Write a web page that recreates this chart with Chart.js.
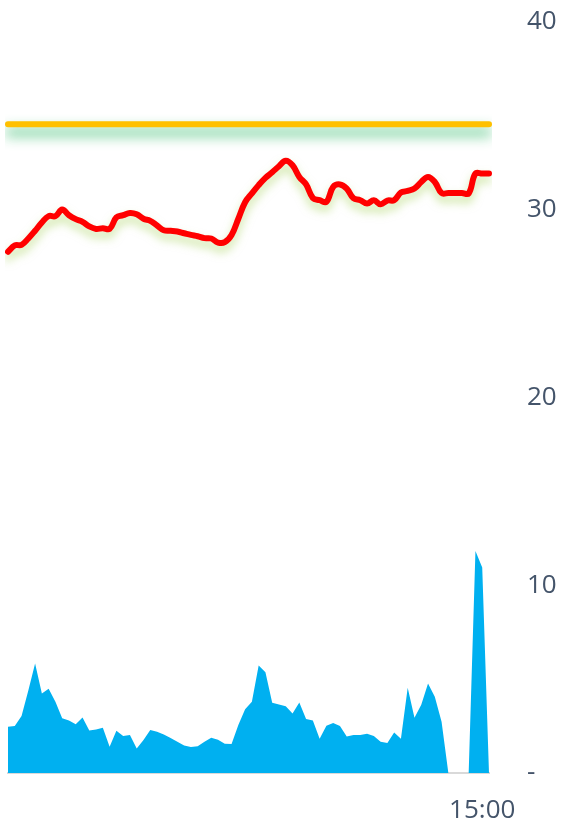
<!DOCTYPE html>
<html>
<head>
<meta charset="utf-8">
<script src="https://cdn.jsdelivr.net/npm/chart.js@4.4.1/dist/chart.umd.min.js"></script>
<style>
    html, body { margin: 0; padding: 0; background: #ffffff; }
    #wrap { width: 562px; height: 830px; position: relative; }
</style>
</head>
<body>
<div id="wrap"><canvas id="chart"></canvas></div>
<script>
// 5-minute steps, only 15:00 is labelled
const startMinutes = 9 * 60 + 10;
const categories = [];
for (let i = 0; i < 72; i++) {
    const m = startMinutes + i * 5;
    categories.push(`${Math.floor(m / 60)}:${String(m % 60).padStart(2, '0')}`);
}
const shownLabels = ['15:00'];
const yTicks = [0, 10, 20, 30, 40];

const targetLevel = [
    34.55, 34.55, 34.55, 34.55, 34.55, 34.55, 34.55, 34.55, 34.55, 34.55, 34.55, 34.55,
    34.55, 34.55, 34.55, 34.55, 34.55, 34.55, 34.55, 34.55, 34.55, 34.55, 34.55, 34.55,
    34.55, 34.55, 34.55, 34.55, 34.55, 34.55, 34.55, 34.55, 34.55, 34.55, 34.55, 34.55,
    34.55, 34.55, 34.55, 34.55, 34.55, 34.55, 34.55, 34.55, 34.55, 34.55, 34.55, 34.55,
    34.55, 34.55, 34.55, 34.55, 34.55, 34.55, 34.55, 34.55, 34.55, 34.55, 34.55, 34.55,
    34.55, 34.55, 34.55, 34.55, 34.55, 34.55, 34.55, 34.55, 34.55, 34.55, 34.55, 34.55
];

const mainValues = [
    27.76, 28.10, 28.13, 28.47, 28.88, 29.32, 29.66, 29.66, 30.01, 29.71, 29.50, 29.36,
    29.11, 28.98, 29.02, 28.98, 29.59, 29.71, 29.83, 29.76, 29.52, 29.41, 29.16, 28.91,
    28.88, 28.84, 28.75, 28.66, 28.59, 28.49, 28.47, 28.25, 28.27, 28.65, 29.52, 30.40,
    30.87, 31.31, 31.70, 32.00, 32.32, 32.61, 32.37, 31.75, 31.35, 30.63, 30.51, 30.42,
    31.22, 31.35, 31.13, 30.61, 30.51, 30.33, 30.51, 30.29, 30.49, 30.51, 30.92, 31.00,
    31.13, 31.48, 31.75, 31.48, 30.89, 30.89, 30.89, 30.89, 30.87, 31.93, 31.93, 31.93
];

const volumeValues = [
    2.46, 2.50, 3.03, 4.40, 5.83, 4.24, 4.49, 3.79, 2.91, 2.80, 2.59, 2.96,
    2.27, 2.32, 2.41, 1.40, 2.25, 1.97, 2.02, 1.31, 1.76, 2.29, 2.20, 2.05,
    1.86, 1.67, 1.47, 1.38, 1.42, 1.67, 1.88, 1.77, 1.56, 1.54, 2.55, 3.40,
    3.79, 5.72, 5.36, 3.74, 3.65, 3.56, 3.17, 3.76, 2.87, 2.80, 1.83, 2.52,
    2.66, 2.50, 1.95, 2.02, 2.02, 2.09, 1.97, 1.67, 1.60, 2.16, 1.83, 4.54,
    2.94, 3.63, 4.77, 4.06, 2.73, 0, 0, 0, 0, 11.83, 10.94, 0
];

const textColor = '#44546A';

// soft drop shadow under a dataset (glow look of the original)
const shadowPlugin = {
    id: 'lineShadow',
    beforeDatasetDraw(chart, args) {
        const ds = chart.data.datasets[args.index];
        if (!ds.shadowColor) return;
        const ctx = chart.ctx;
        ctx.save();
        ctx.shadowColor = ds.shadowColor;
        ctx.shadowBlur = ds.shadowBlur;
        ctx.shadowOffsetY = ds.shadowOffsetY;
    },
    afterDatasetDraw(chart, args) {
        const ds = chart.data.datasets[args.index];
        if (!ds.shadowColor) return;
        chart.ctx.restore();
    }
};

const ctx = document.getElementById('chart').getContext('2d');
new Chart(ctx, {
    type: 'line',
    data: {
        labels: categories,
        datasets: [
            {
                data: targetLevel,
                borderColor: '#FFC000',
                borderWidth: 6,
                borderCapStyle: 'round',
                pointRadius: 0,
                fill: false,
                shadowColor: 'rgba(50, 185, 105, 0.9)',
                shadowBlur: 13,
                shadowOffsetY: 8
            },
            {
                data: mainValues,
                borderColor: '#FF0000',
                borderWidth: 6,
                borderCapStyle: 'round',
                borderJoinStyle: 'round',
                tension: 0.4,
                pointRadius: 0,
                fill: false,
                shadowColor: 'rgba(160, 205, 80, 0.55)',
                shadowBlur: 10,
                shadowOffsetY: 6
            },
            {
                data: volumeValues,
                borderWidth: 0,
                backgroundColor: '#00B0F0',
                pointRadius: 0,
                tension: 0,
                fill: 'origin'
            }
        ]
    },
    options: {
        responsive: true,
        maintainAspectRatio: false,
        animation: false,
        layout: {
            padding: { left: 8, top: 22, right: 0, bottom: 4 }
        },
        plugins: {
            legend: { display: false },
            tooltip: { enabled: false }
        },
        scales: {
            x: {
                afterFit: (scale) => {
                    // tick padding would otherwise also be added to the sides
                    scale.height = 53;
                    scale.paddingLeft = 0;
                    scale.paddingRight = 0;
                },
                grid: { display: false, drawTicks: false },
                border: { display: true, color: '#D9D9D9', width: 2 },
                ticks: {
                    autoSkip: false,
                    maxRotation: 0,
                    padding: 22,
                    color: textColor,
                    font: { family: 'Open Sans', size: 26 },
                    callback: function(value) {
                        const lbl = this.getLabelForValue(value);
                        return shownLabels.includes(lbl) ? lbl : '';
                    }
                }
            },
            y: {
                position: 'right',
                min: yTicks[0],
                max: yTicks[yTicks.length - 1],
                afterFit: (scale) => {
                    scale.width = 73;
                    scale.paddingTop = 0;
                    scale.paddingBottom = 0;
                },
                afterBuildTicks: (scale) => {
                    scale.ticks = yTicks.map(v => ({ value: v }));
                },
                grid: { display: false, drawTicks: false },
                border: { display: false },
                ticks: {
                    padding: 38,
                    color: textColor,
                    font: { family: 'Open Sans', size: 26 },
                    callback: (v) => v === 0 ? '-' : v
                }
            }
        }
    },
    plugins: [shadowPlugin]
});
</script>
</body>
</html>
